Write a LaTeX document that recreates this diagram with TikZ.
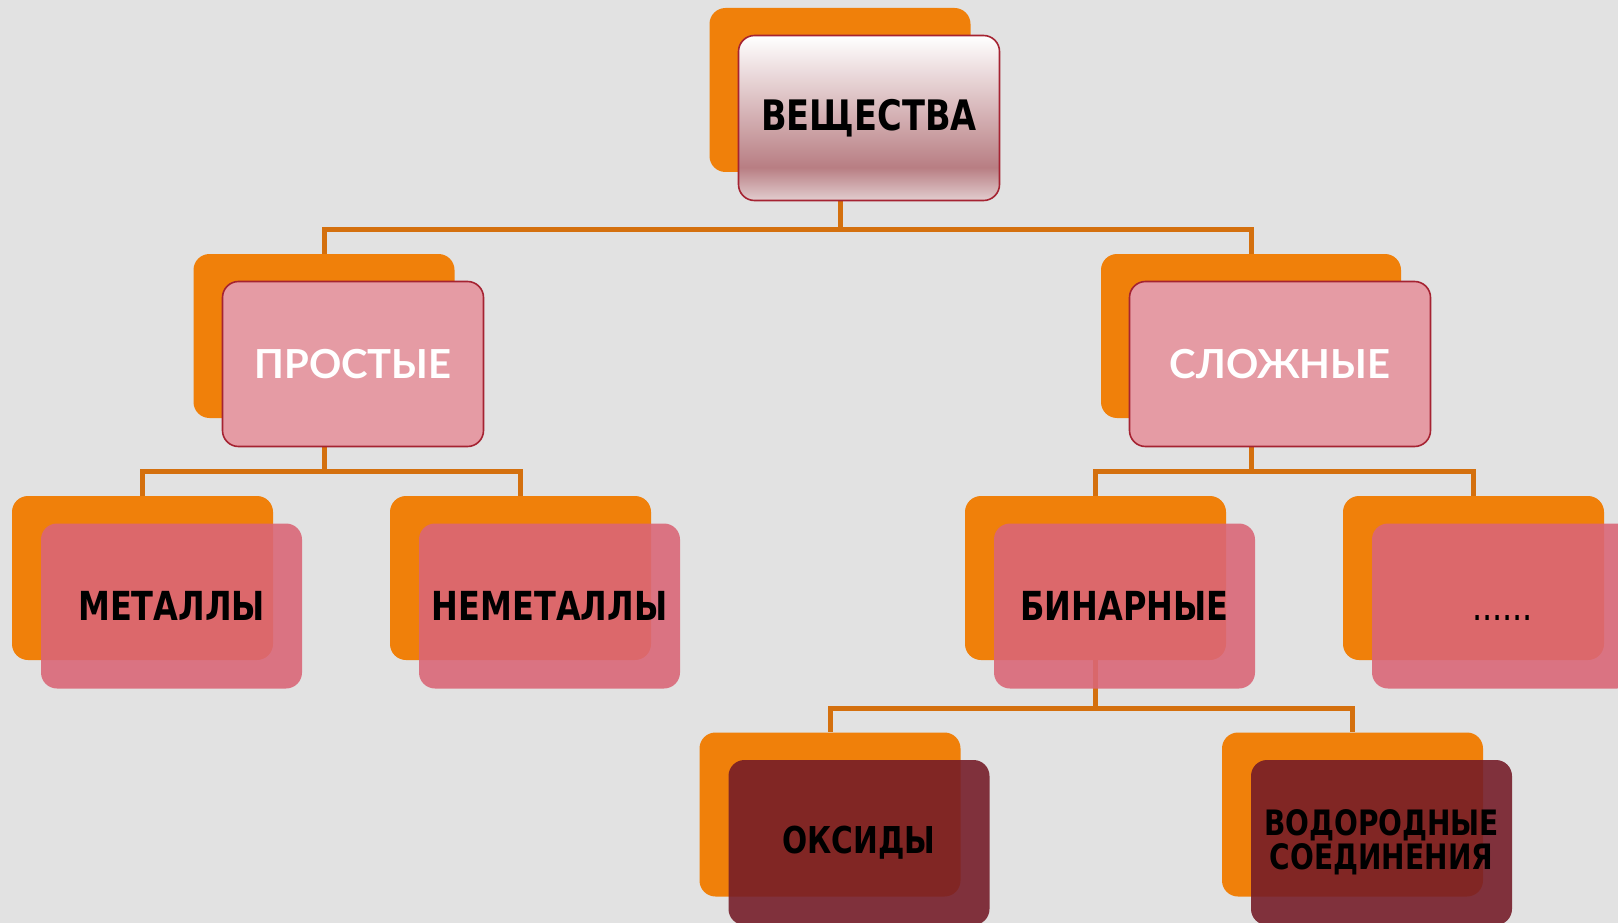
\documentclass[tikz,border=0pt]{standalone}
\usepackage{fontspec}
\setmainfont{DejaVu Sans}
\newfontfamily\condfont[FakeStretch=0.89]{DejaVu Sans Condensed}
\newfontfamily\widefont{Lato}
\definecolor{paper}{RGB}{226,226,226}
\definecolor{backorange}{RGB}{240,128,10}
\definecolor{linebrown}{RGB}{212,112,14}
\definecolor{edgered}{RGB}{165,35,50}
\definecolor{rosepink}{RGB}{229,155,164}
\definecolor{salmon}{RGB}{218,102,119}
\definecolor{darkwine}{RGB}{116,28,40}
\definecolor{gradlow}{RGB}{226,205,207}
\definecolor{graddark}{RGB}{184,126,131}
\pgfdeclareverticalshading{rosegrad}{100bp}{color(0bp)=(gradlow); color(25bp)=(gradlow); color(35bp)=(graddark); color(75bp)=(white); color(100bp)=(white)}
\pgfdeclarelayer{paperlayer}
\pgfdeclarelayer{linelayer}
\pgfsetlayers{paperlayer,linelayer,main}
\usetikzlibrary{positioning}

\begin{document}
\begin{tikzpicture}[x=1pt, y=-1pt,
  backbox/.style={fill=backorange, rounded corners=16pt, minimum width=261pt, minimum height=164pt, inner sep=0pt},
  frontbox/.style={rounded corners=16pt, minimum width=261pt, minimum height=165pt, inner sep=0pt, align=center},
  rootbox/.style={frontbox, draw=edgered, line width=1.6pt, shading=rosegrad, font=\condfont\bfseries\fontsize{42}{46}\selectfont},
  kindbox/.style={frontbox, draw=edgered, line width=1.6pt, fill=rosepink, text=white, font=\widefont\bfseries\fontsize{40}{44}\selectfont},
  groupbox/.style={frontbox, fill=salmon, fill opacity=0.89, text opacity=1, font=\condfont\bfseries\fontsize{40}{44}\selectfont},
  classbox/.style={frontbox, fill=darkwine, fill opacity=0.89, text opacity=1, font=\condfont\bfseries\fontsize{37}{42}\selectfont},
  link/.style={draw=linebrown, line width=5pt}
]
  \useasboundingbox (0,0) rectangle (1618,923);
  \begin{pgfonlayer}{paperlayer}
    \fill[paper] (0,0) rectangle (1618,923);
  \end{pgfonlayer}

  % Top level
  \node[backbox] (rootB) at (840,90) {};
  \node[rootbox] (root) at ([shift={(29,28)}]rootB) {ВЕЩЕСТВА};

  % Second level
  \node[backbox] (simpleB) at (324,336) {};
  \node[kindbox] (simple) at ([shift={(29,28)}]simpleB) {ПРОСТЫЕ};
  \node[backbox, minimum width=300pt] (complexB) at (1251,336) {};
  \node[kindbox, minimum width=301pt] (complex) at ([shift={(29,28)}]complexB) {СЛОЖНЫЕ};

  % Third level
  \node[backbox] (metalB) at (142.5,578) {};
  \node[groupbox] (metal) at ([shift={(29,28)}]metalB) {МЕТАЛЛЫ};
  \node[backbox] (nonmetalB) at (520.5,578) {};
  \node[groupbox] (nonmetal) at ([shift={(29,28)}]nonmetalB) {НЕМЕТАЛЛЫ};
  \node[backbox] (binaryB) at (1095.5,578) {};
  \node[groupbox] (binary) at ([shift={(29,28)}]binaryB) {БИНАРНЫЕ};
  \node[backbox] (otherB) at (1473.5,578) {};
  \node[groupbox, font=\condfont\fontsize{40}{44}\selectfont] (other) at ([shift={(29,28)}]otherB) {\vphantom{Б}......};

  % Bottom level
  \node[backbox] (oxideB) at (830,814.5) {};
  \node[classbox] (oxide) at ([shift={(29,28)}]oxideB) {ОКСИДЫ};
  \node[backbox] (hydrideB) at (1352.5,814.5) {};
  \node[classbox, font=\condfont\bfseries\fontsize{35}{34}\selectfont] (hydride) at ([shift={(29,28)}]hydrideB) {ВОДОРОДНЫЕ\\СОЕДИНЕНИЯ};

  % Connectors
  \begin{pgfonlayer}{linelayer}
    \coordinate (rootJ) at (840,229);
    \coordinate (simpleJ) at (324,471);
    \coordinate (complexJ) at (1251,471);
    \coordinate (binaryJ) at (1095.5,708);
    \draw[link] (rootB.south) -- (rootJ) -| (simpleB.north);
    \draw[link] (rootJ) -| (complexB.north);
    \draw[link] (simpleB.south) -- (simpleJ) -| (metalB.north);
    \draw[link] (simpleJ) -| (nonmetalB.north);
    \draw[link] (complexB.south) -- (complexJ) -| (binaryB.north);
    \draw[link] (complexJ) -| (otherB.north);
    \draw[link] (binaryB.south) -- (binaryJ) -| (oxideB.north);
    \draw[link] (binaryJ) -| (hydrideB.north);
  \end{pgfonlayer}
\end{tikzpicture}
\end{document}
